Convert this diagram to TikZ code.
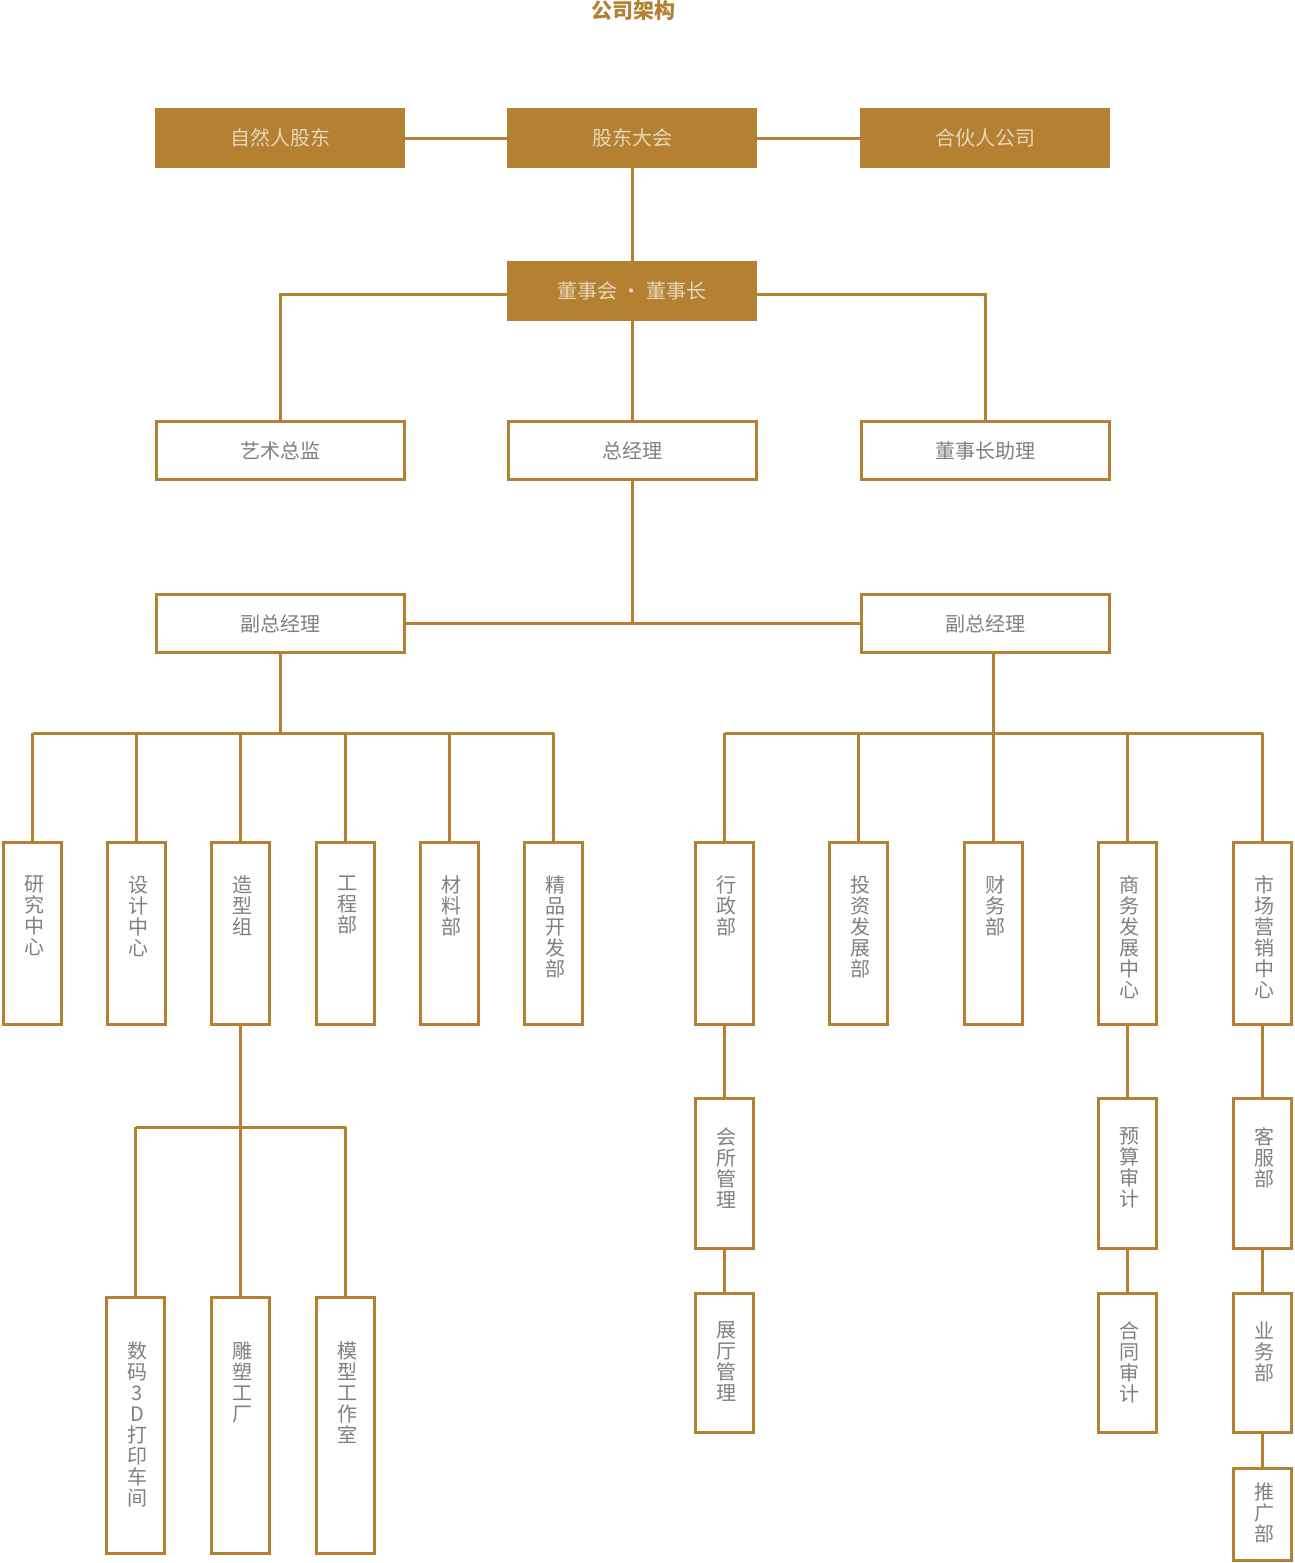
\documentclass[tikz,border=0pt]{standalone}
\usepackage{fontspec}
\setmainfont{Noto Sans CJK SC}
\definecolor{gold}{RGB}{180,128,50}
\definecolor{tgray}{RGB}{128,128,128}
\definecolor{cream}{RGB}{232,214,185}
\newcommand\vtx[3]{\parbox[c][#2pt][t]{30pt}{\centering\leftskip=4pt plus 1fil\rightskip=0pt plus 1fil\relax\fontsize{20}{21}\selectfont\vspace*{#1pt}#3\par}}
\tikzset{
  fillbox/.style={fill=gold, draw=none, minimum width=250pt, minimum height=60pt, inner sep=0pt,
    text=cream, font=\fontsize{20}{20}\selectfont},
  hbox/.style={draw=gold, line width=3pt, fill=white, minimum width=248pt, minimum height=58pt, inner sep=0pt,
    text=tgray, font=\fontsize{20}{20}\selectfont},
  vbox/.style={draw=gold, line width=3pt, fill=white, minimum width=58pt, inner sep=0pt, text=tgray},
  conn/.style={draw=gold, line width=3pt},
}
\begin{document}
\begin{tikzpicture}[x=1pt,y=-1pt]
\useasboundingbox (0,0) rectangle (1294,1563);
% title
\node[text=gold, font=\fontsize{21}{21}\selectfont\bfseries] (title) at (633,11) {公司架构};
% top row
\node[fillbox] (zr) at (280,138) {自然人股东};
\node[fillbox] (gd) at (632,138) {股东大会};
\node[fillbox] (hh) at (985,138) {合伙人公司};
\node[fillbox] (ds) at (632,291) {董事会 · 董事长};
% second row
\node[hbox] (ys) at (280.5,450.5) {艺术总监};
\node[hbox] (zj) at (632.5,450.5) {总经理};
\node[hbox] (zl) at (985.5,450.5) {董事长助理};
\node[hbox] (f1) at (280.5,623.5) {副总经理};
\node[hbox] (f2) at (985.5,623.5) {副总经理};
% departments row
\node[vbox, minimum height=182pt] (d1) at (32.5,933.5) {\vtx{33.5}{182}{研\\究\\中\\心}};
\node[vbox, minimum height=182pt] (d2) at (136.5,933.5) {\vtx{33.5}{182}{设\\计\\中\\心}};
\node[vbox, minimum height=182pt] (d3) at (240.5,933.5) {\vtx{33.5}{182}{造\\型\\组}};
\node[vbox, minimum height=182pt] (d4) at (345.5,933.5) {\vtx{33.5}{182}{工\\程\\部}};
\node[vbox, minimum height=182pt] (d5) at (449.5,933.5) {\vtx{33.5}{182}{材\\料\\部}};
\node[vbox, minimum height=182pt] (d6) at (553.5,933.5) {\vtx{33.5}{182}{精\\品\\开\\发\\部}};
\node[vbox, minimum height=182pt] (e1) at (724.5,933.5) {\vtx{33.5}{182}{行\\政\\部}};
\node[vbox, minimum height=182pt] (e2) at (858.5,933.5) {\vtx{33.5}{182}{投\\资\\发\\展\\部}};
\node[vbox, minimum height=182pt] (e3) at (993.5,933.5) {\vtx{33.5}{182}{财\\务\\部}};
\node[vbox, minimum height=182pt] (e4) at (1127.5,933.5) {\vtx{33.5}{182}{商\\务\\发\\展\\中\\心}};
\node[vbox, minimum height=182pt] (e5) at (1262.5,933.5) {\vtx{33.5}{182}{市\\场\\营\\销\\中\\心}};
% sub rows
\node[vbox, minimum height=150pt] (s1) at (724.5,1173.5) {\vtx{29.5}{150}{会\\所\\管\\理}};
\node[vbox, minimum height=139pt] (s2) at (724.5,1363) {\vtx{28.5}{139}{展\\厅\\管\\理}};
\node[vbox, minimum height=150pt] (t1) at (1127.5,1173.5) {\vtx{29.5}{150}{预\\算\\审\\计}};
\node[vbox, minimum height=139pt] (t2) at (1127.5,1363) {\vtx{28.5}{139}{合\\同\\审\\计}};
\node[vbox, minimum height=150pt] (u1) at (1262.5,1173.5) {\vtx{29.5}{150}{客\\服\\部}};
\node[vbox, minimum height=139pt] (u2) at (1262.5,1363) {\vtx{28.5}{139}{业\\务\\部}};
\node[vbox, minimum height=92pt] (u3) at (1262.5,1514.5) {\vtx{14.5}{92}{推\\广\\部}};
\node[vbox, minimum height=256pt] (z1) at (135.5,1425.5) {\vtx{44.5}{256}{数\\码\\3\\D\\打\\印\\车\\间}};
\node[vbox, minimum height=256pt] (z2) at (240.5,1425.5) {\vtx{44.5}{256}{雕\\塑\\工\\厂}};
\node[vbox, minimum height=256pt] (z3) at (345.5,1425.5) {\vtx{44.5}{256}{模\\型\\工\\作\\室}};
% bus coordinates
\coordinate (busL) at (280.5,733);
\coordinate (busR) at (993.5,733);
\coordinate (busZ) at (240.5,1127);
% connectors
\draw[conn] (zr.east) -- (gd.west);
\draw[conn] (gd.east) -- (hh.west);
\draw[conn] (zj.north |- gd.south) -- (zj.north |- ds.north);
\draw[conn] ([yshift=-3pt]ds.west) -| (ys.north);
\draw[conn] ([yshift=-3pt]ds.east) -| (zl.north);
\draw[conn] (zj.north |- ds.south) -- (zj.north);
\draw[conn] (f1.east) -- (f2.west);
\draw[conn] (zj.south) -- (zj.south |- f1.east);
% left bus
\draw[conn] (f1.south) -- (busL);
\draw[conn] (d1.north |- busL) -- (d6.north |- busL);
\foreach \n in {d1,d2,d3,d4,d5,d6} \draw[conn] (\n.north) -- (\n.north |- busL);
% right bus
\draw[conn] (e3.north |- f2.south) -- (busR);
\draw[conn] (e1.north |- busR) -- (e5.north |- busR);
\foreach \n in {e1,e2,e3,e4,e5} \draw[conn] (\n.north) -- (\n.north |- busR);
% 造型组 bus
\draw[conn] (d3.south) -- (z2.north);
\draw[conn] (z1.north |- busZ) -- (z3.north |- busZ);
\draw[conn] (z1.north) -- (z1.north |- busZ);
\draw[conn] (z3.north) -- (z3.north |- busZ);
% chains
\draw[conn] (e1.south) -- (s1.north);
\draw[conn] (s1.south) -- (s2.north);
\draw[conn] (e4.south) -- (t1.north);
\draw[conn] (t1.south) -- (t2.north);
\draw[conn] (e5.south) -- (u1.north);
\draw[conn] (u1.south) -- (u2.north);
\draw[conn] (u2.south) -- (u3.north);
\end{tikzpicture}
\end{document}
